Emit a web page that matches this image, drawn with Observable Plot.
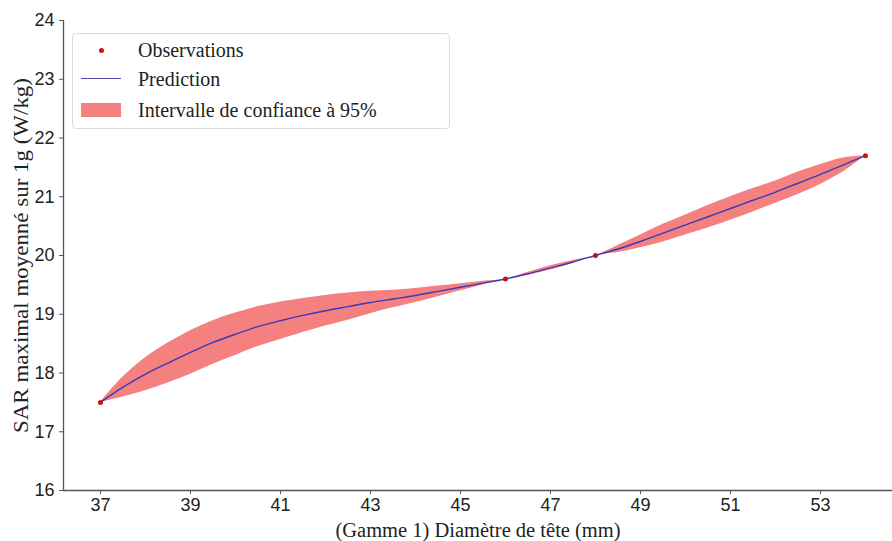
<!DOCTYPE html>
<html>
<head>
<meta charset="utf-8">
<script src="https://cdn.jsdelivr.net/npm/d3@7"></script>
<script src="https://cdn.jsdelivr.net/npm/@observablehq/plot@0.6"></script>
<style>
  body { margin: 0; background: #fff; }
  #wrap { position: relative; width: 892px; height: 541px; }
  g[aria-label="x-axis label"] text, g[aria-label="y-axis label"] text { font-family: "Liberation Serif", serif; font-size: 20.5px; fill: #222; }
  #legend { position: absolute; left: 72px; top: 33px; width: 376px; height: 94px; border: 1px solid #dcdcdc; border-radius: 4px; background: rgba(255,255,255,0.85); font-family: "Liberation Serif", serif; font-size: 20px; color: #222; }
  .row { position: absolute; left: 0; height: 24px; width: 100%; }
  .row span { position: absolute; left: 65px; top: 0; line-height: 24px; white-space: nowrap; }
  .sym { position: absolute; }
</style>
</head>
<body>
<div id="wrap">
  <div id="legend">
    <div class="row" style="top:4px"><div class="sym" style="left:26px;top:10px;width:5px;height:5px;border-radius:50%;background:#cc1111"></div><span>Observations</span></div>
    <div class="row" style="top:33px"><div class="sym" style="left:8px;top:11px;width:40px;height:0;border-top:1.4px solid #4a4ab0"></div><span>Prediction</span></div>
    <div class="row" style="top:64px"><div class="sym" style="left:8px;top:5px;width:40px;height:14px;background:#f58080"></div><span>Intervalle de confiance à 95%</span></div>
  </div>
</div>
<script>
// Observations
const obsX = [37, 46, 48, 54];
const obsY = [17.5, 19.6, 20.0, 21.7];
// Prediction grid and confidence band
const gridX = [37, 37.5, 38, 38.5, 39, 39.5, 40, 40.5, 41, 41.5, 42, 42.5, 43, 43.5, 44, 44.5, 45, 45.5, 46, 46.5, 47, 47.5, 48, 48.5, 49, 49.5, 50, 50.5, 51, 51.5, 52, 52.5, 53, 53.5, 54];
const pred  = [17.50, 17.76, 17.98, 18.17, 18.35, 18.52, 18.66, 18.79, 18.89, 18.98, 19.06, 19.13, 19.20, 19.26, 19.32, 19.39, 19.46, 19.53, 19.60, 19.69, 19.79, 19.89, 20.00, 20.11, 20.24, 20.38, 20.52, 20.66, 20.80, 20.94, 21.08, 21.23, 21.38, 21.54, 21.70];
const upper = [17.50, 17.93, 18.26, 18.51, 18.72, 18.89, 19.02, 19.13, 19.21, 19.27, 19.32, 19.36, 19.39, 19.41, 19.44, 19.48, 19.52, 19.56, 19.60, 19.715, 19.825, 19.915, 20.00, 20.17, 20.35, 20.53, 20.69, 20.85, 21.00, 21.14, 21.27, 21.42, 21.55, 21.66, 21.70];
const lower = [17.50, 17.59, 17.70, 17.83, 17.98, 18.15, 18.30, 18.45, 18.57, 18.69, 18.80, 18.90, 19.01, 19.11, 19.20, 19.30, 19.40, 19.50, 19.60, 19.665, 19.755, 19.865, 20.00, 20.05, 20.13, 20.23, 20.35, 20.47, 20.60, 20.74, 20.89, 21.04, 21.21, 21.42, 21.70];
const xTicks = [37, 39, 41, 43, 45, 47, 49, 51, 53];
const yTicks = [16, 17, 18, 19, 20, 21, 22, 23, 24];
const xLabel = "(Gamme 1) Diamètre de tête (mm)";
const yLabel = "SAR maximal moyenné sur 1g (W/kg)";

const obs = obsX.map((x, i) => ({x, y: obsY[i]}));
const band = gridX.map((x, i) => ({x, p: pred[i], lo: lower[i], hi: upper[i]}));
const xMin = 36.178, xMax = 54.6;

const chart = Plot.plot({
  width: 892,
  height: 541,
  marginLeft: 63,
  marginRight: 0,
  marginTop: 20,
  marginBottom: 51,
  style: {fontFamily: "'Liberation Sans', Arial, sans-serif", fontSize: "18px", color: "#222", background: "#fff"},
  x: {domain: [xMin, xMax]},
  y: {domain: [16, 24]},
  marks: [
    Plot.areaY(band, {x: "x", y1: "lo", y2: "hi", fill: "#f58080", fillOpacity: 1, curve: "catmull-rom"}),
    Plot.line(band, {x: "x", y: "p", stroke: "#3a3ab8", strokeWidth: 1.4, curve: "catmull-rom"}),
    Plot.dot(obs, {x: "x", y: "y", r: 2.5, fill: "#cc1111", stroke: "none"}),
    Plot.ruleY([16], {stroke: "#555", strokeWidth: 1.3}),
    Plot.ruleX([xMin], {stroke: "#555", strokeWidth: 1.3}),
    Plot.axisX({ticks: xTicks, tickSize: 4, tickPadding: 4, stroke: "#555", label: xLabel, labelAnchor: "center", labelArrow: "none", labelOffset: 46}),
    Plot.axisY({ticks: yTicks, tickSize: 4, tickPadding: 5, stroke: "#555", label: yLabel, labelAnchor: "center", labelArrow: "none", labelOffset: 50})
  ]
});
document.getElementById("wrap").prepend(chart);
chart.style.position = "absolute";
chart.style.left = "0";
chart.style.top = "0";
// vertical stretch of the reference: lengthen the y-axis title along its direction
const yl = chart.querySelector('g[aria-label="y-axis label"] text');
if (yl) { yl.setAttribute("textLength", "355"); yl.setAttribute("lengthAdjust", "spacingAndGlyphs"); }
</script>
</body>
</html>
